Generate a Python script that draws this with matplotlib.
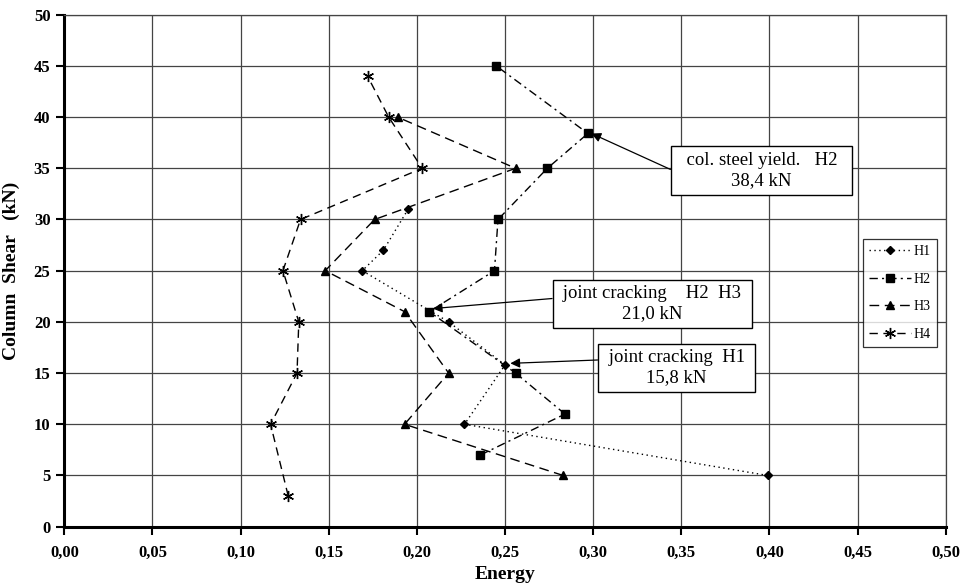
import matplotlib
matplotlib.use("Agg")
import matplotlib.pyplot as plt
from matplotlib.ticker import FuncFormatter, MultipleLocator

# donnees
h1_energy = [0.399, 0.227, 0.250, 0.218, 0.169, 0.181, 0.195]
h1_shear = [5.0, 10.0, 15.8, 20.0, 25.0, 27.0, 31.0]

h2_energy = [0.236, 0.284, 0.256, 0.207, 0.244, 0.246, 0.274, 0.297, 0.245]
h2_shear = [7.0, 11.0, 15.0, 21.0, 25.0, 30.0, 35.0, 38.4, 45.0]

h3_energy = [0.283, 0.193, 0.218, 0.193, 0.148, 0.176, 0.256, 0.189]
h3_shear = [5.0, 10.0, 15.0, 21.0, 25.0, 30.0, 35.0, 40.0]

h4_energy = [0.127, 0.117, 0.132, 0.133, 0.124, 0.134, 0.203, 0.184, 0.172]
h4_shear = [3.0, 10.0, 15.0, 20.0, 25.0, 30.0, 35.0, 40.0, 44.0]

notes = ["  col. steel yield.   H2  \n38,4 kN",
         " joint cracking    H2  H3 \n21,0 kN",
         " joint cracking  H1 \n15,8 kN"]
note_points = [(0.299, 38.4), (0.209, 21.3), (0.253, 15.95)]
note_boxes = [(0.3955, 34.8), (0.3334, 21.75), (0.3473, 15.5)]
note_relpos = [(0, 0.45), (0, 0.66), (0, 0.72)]

plt.rcParams['font.family'] = ['Liberation Serif', 'DejaVu Serif']

fig = plt.figure(figsize=(9.63, 5.88), dpi=100)
ax = fig.add_axes([0.0668, 0.1043, 0.9153, 0.8707])

ax.plot(h1_energy, h1_shear, color='black', linestyle=(0, (1, 2.5)), linewidth=1,
        marker='D', markersize=4, label='H1')
ax.plot(h2_energy, h2_shear, color='black', linestyle=(0, (6, 3, 1.5, 3)), linewidth=1,
        marker='s', markersize=6, label='H2')
ax.plot(h3_energy, h3_shear, color='black', linestyle=(0, (7, 4)), linewidth=1,
        marker='^', markersize=6, label='H3')
ax.plot(h4_energy, h4_shear, color='black', linestyle=(0, (6, 4)), linewidth=1,
        marker=(6, 2, 0), markersize=8, markeredgewidth=1.0, label='H4')

for txt, pt, box, rp in zip(notes, note_points, note_boxes, note_relpos):
    ax.annotate(txt, xy=pt, xytext=box, ha='center', va='center',
                multialignment='center', fontsize=13.5, linespacing=1.25,
                bbox=dict(boxstyle='square,pad=0.3', fc='white', ec='black', lw=1),
                arrowprops=dict(arrowstyle='-|>', color='black', lw=0.9,
                                mutation_scale=14, relpos=rp, shrinkA=0, shrinkB=0))

ax.set_xlim(0, 0.5)
ax.set_ylim(0, 50)
ax.xaxis.set_major_locator(MultipleLocator(0.05))
ax.yaxis.set_major_locator(MultipleLocator(5))
ax.xaxis.set_major_formatter(FuncFormatter(lambda v, p: f"{v:.2f}".replace('.', ',')))
ax.yaxis.set_major_formatter(FuncFormatter(lambda v, p: f"{v:.0f}"))
ax.grid(True, color='#444444', linewidth=0.9)
ax.set_axisbelow(True)

for side in ['left', 'bottom']:
    ax.spines[side].set_linewidth(2.2)
for side in ['top', 'right']:
    ax.spines[side].set_linewidth(0.9)
    ax.spines[side].set_color('#444444')

ax.tick_params(axis='x', direction='out', length=6, width=1.5, labelsize=12, pad=7)
ax.tick_params(axis='y', direction='out', length=6, width=1.5, labelsize=12, pad=4)
for lab in ax.get_xticklabels() + ax.get_yticklabels():
    lab.set_fontweight('bold')

ax.set_xlabel('Energy', fontsize=14, fontweight='bold')
ax.set_ylabel('Column  Shear   (kN)', fontsize=14, fontweight='bold')
ax.xaxis.set_label_coords(0.5, -0.076)
ax.yaxis.set_label_coords(-0.050, 0.5)

leg = ax.legend(loc='upper left', bbox_to_anchor=(0.906, 0.562), borderaxespad=0,
                fontsize=10, frameon=True, fancybox=False, edgecolor='black',
                handlelength=3.0, labelspacing=1.05, borderpad=0.45, handletextpad=0.2)
leg.get_frame().set_linewidth(0.9)

plt.savefig('out.png', dpi=100)
